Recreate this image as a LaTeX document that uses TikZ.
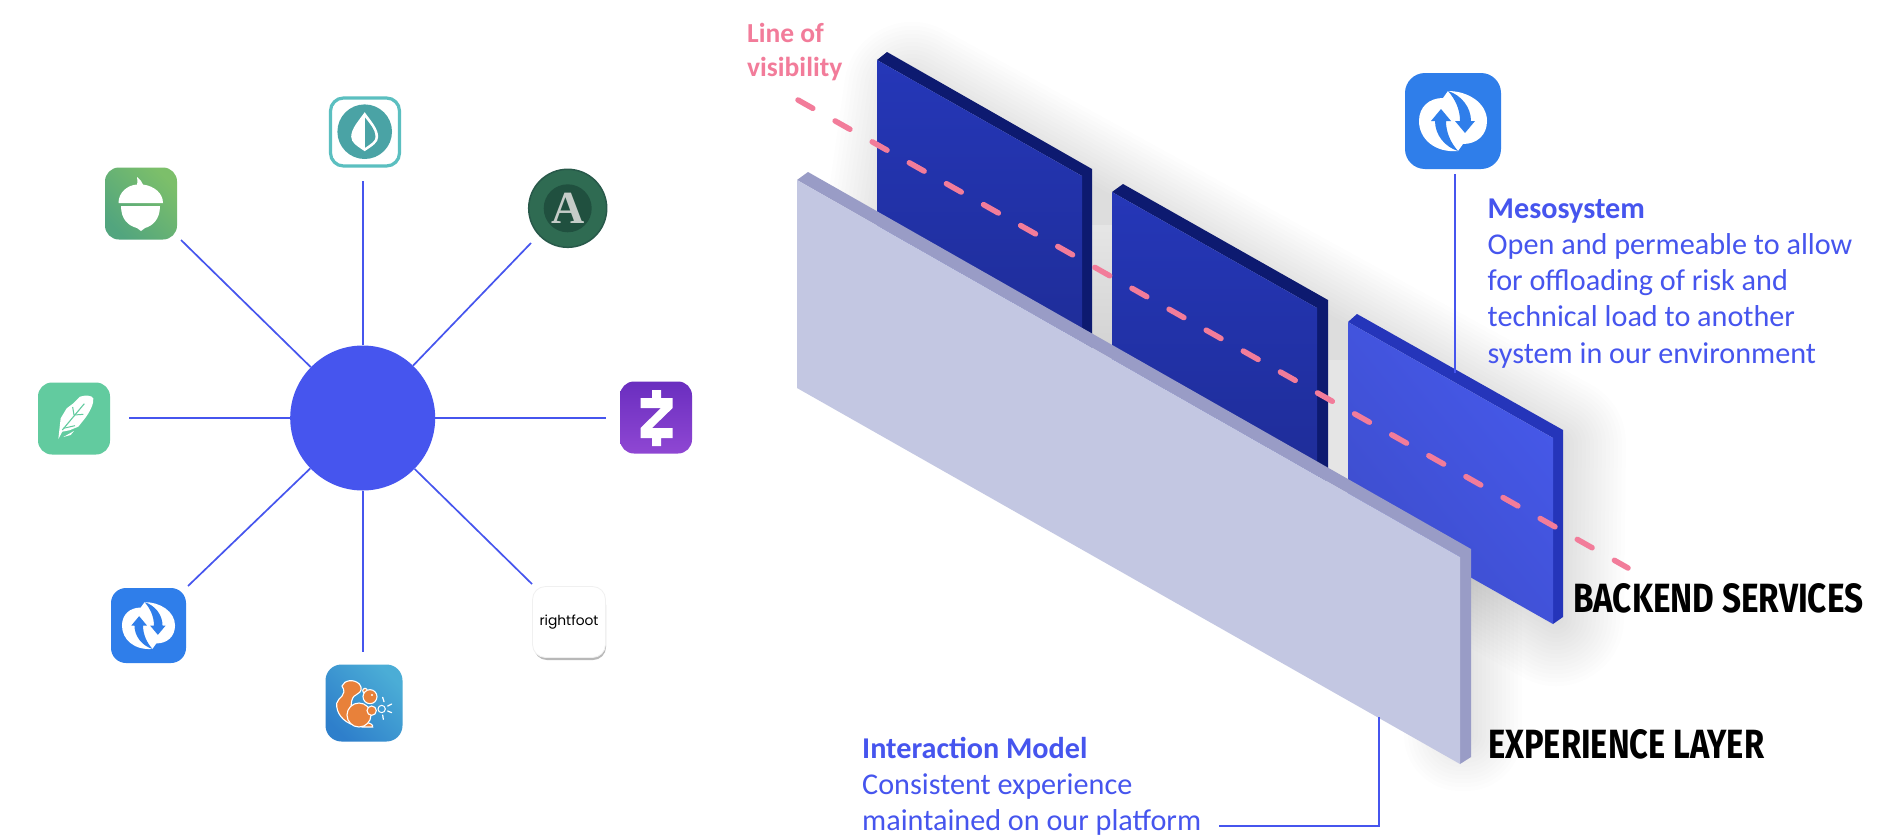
\documentclass[tikz,border=0pt]{standalone}
\usepackage{fontspec}
\setmainfont{Carlito}
\newfontfamily\labelfont{Fira Sans}
\newfontfamily\serifletter{Liberation Serif}
\newfontfamily\rightfontf{Poppins}
\definecolor{hubblue}{HTML}{4655EE}
\definecolor{pink}{HTML}{F27C9A}
\definecolor{frontface}{HTML}{C3C7E2}
\definecolor{frontedge}{HTML}{999CC6}
\definecolor{darkedge}{HTML}{0D1A70}
\definecolor{darkface}{HTML}{2537B8}
\definecolor{darkfacelow}{HTML}{1E2C96}
\definecolor{liteface}{HTML}{4659EA}
\definecolor{litefacelow}{HTML}{3D4DCC}
\definecolor{liteedge}{HTML}{2535BA}
\definecolor{wave}{HTML}{2F7EEA}
\definecolor{mintring}{HTML}{5BBFC0}
\definecolor{mintdisc}{HTML}{4AA3A5}
\definecolor{acornlow}{HTML}{52A57E}
\definecolor{acornhigh}{HTML}{7CBF6A}
\definecolor{featherbg}{HTML}{62CB9F}
\definecolor{zelletop}{HTML}{6A2EBF}
\definecolor{zellelow}{HTML}{8F47D3}
\definecolor{aspouter}{HTML}{2F6B52}
\definecolor{aspinner}{HTML}{20503F}
\definecolor{asprim}{HTML}{28594A}
\definecolor{aspletter}{HTML}{C5CCC8}
\definecolor{squirlow}{HTML}{2E7FCB}
\definecolor{squirhigh}{HTML}{4BADD6}
\definecolor{squirorange}{HTML}{E8813A}
\tikzset{
  spoke/.style={draw=hubblue,line width=1.7pt},
  iconbox/.style={rectangle,rounded corners=14pt,minimum width=72pt,minimum height=72pt,inner sep=0pt,draw=none},
  bodytext/.style={text=hubblue,align=left,inner sep=0pt,font=\fontsize{30.2}{36.2}\selectfont},
  tierlabel/.style={text=black,inner sep=0pt,anchor=west,font=\labelfont\bfseries},
  softlayer/.style={fill=black,draw=black,line join=round},
  squirpart/.style={fill=squirorange,draw=white,line width=1.1pt},
}
\newcommand{\waveglyph}[3]{%
  \begin{scope}[shift={(#1,#2)},scale=#3]
    \fill[white] (-5,-30) .. controls (15,-30) and (34,-18) .. (34,0)
      .. controls (34,14) and (24,23) .. (10,23) -- (5,30)
      .. controls (-18,32) and (-34,18) .. (-34,0)
      .. controls (-34,-14) and (-24,-23) .. (-10,-23) -- cycle;
    \fill[wave] (-12,-12) -- (-22,0) -- (-18,0) .. controls (-18,14) and (-8,26) .. (5,30)
      .. controls (-2,22) and (-7,12) .. (-7,0) -- (-2,0) -- cycle;
    \fill[wave] (12,12) -- (22,0) -- (18,0) .. controls (18,-14) and (8,-26) .. (-5,-30)
      .. controls (2,-22) and (7,-12) .. (7,0) -- (2,0) -- cycle;
  \end{scope}}
\begin{document}
\begin{tikzpicture}[x=1pt,y=-1pt]
\useasboundingbox (0,0) rectangle (1900,838);
\fill[white] (0,0) rectangle (1900,838);

% soft shadows
\foreach \w in {4,8,...,68}{
  \begin{scope}[transparency group,opacity=.0062]
    \path[softlayer,line width=2*\w pt] (912,90) -- (1558,444) -- (1556,618) -- (890,244) -- cycle;
  \end{scope}
}
\foreach \w in {4,8,...,56}{
  \begin{scope}[transparency group,opacity=.0075]
    \path[softlayer,line width=2*\w pt] (1466,560) -- (1466,735) -- (1460,735) -- (1460,560) -- cycle;
  \end{scope}
}
\shade[top color=black!10,bottom color=black!17] (1092,225) rectangle (1112,345);
\shade[top color=black!10,middle color=black!12,bottom color=black!10] (1328,360) rectangle (1348,480);

% back panels
\fill[darkedge] (877,60) -- (887,52) -- (1092,169) -- (1092,360) -- (1082,362) -- (1082,176) -- cycle;
\shade[top color=darkface,middle color=darkface,bottom color=darkfacelow] (877,60) -- (1082,176) -- (1082,362) -- (877,246) -- cycle;
\fill[darkedge] (1112,192) -- (1123,184) -- (1328,300) -- (1328,480) -- (1317,486) -- (1317,308) -- cycle;
\shade[top color=darkface,middle color=darkface,bottom color=darkfacelow] (1112,192) -- (1317,308) -- (1317,494) -- (1112,378) -- cycle;
\fill[liteedge] (1348,322) -- (1357,314) -- (1563,430) -- (1563,617) -- (1553,624) -- (1553,438) -- cycle;
\shade[left color=litefacelow,middle color=liteface,right color=liteface,shading angle=130] (1348,322) -- (1553,438) -- (1553,624) -- (1348,508) -- cycle;

% front panel
\fill[frontedge] (797,180) -- (808,172) -- (1471,549) -- (1471,757) -- (1460,764) -- (1460,557) -- cycle;
\fill[frontface] (797,180) -- (1460,557) -- (1460,764) -- (797,388) -- cycle;

% line of visibility
\coordinate (lva) at (798,100);
\coordinate (lvb) at (1628,568);
\draw[pink,line width=5.5pt,line cap=round,dash pattern=on 17pt off 25.6pt] (lva) -- (lvb);
\node[anchor=north west,text=pink,align=left,inner sep=0pt,font=\fontsize{27.5}{34}\selectfont\bfseries] (lvtext) at (747,23) {Line of\\visibility};

% left hub and spokes
\node[circle,fill=hubblue,minimum size=145pt,inner sep=0pt] (hub) at (362.7,418) {};
\coordinate (e1) at (362.7,181);
\coordinate (e2) at (531,243);
\coordinate (e3) at (606,418);
\coordinate (e4) at (532,584);
\coordinate (e5) at (362.7,652);
\coordinate (e6) at (188,586);
\coordinate (e7) at (129,418);
\coordinate (e8) at (181,240);
\foreach \e in {e1,e2,e3,e4,e5,e6,e7,e8} \draw[spoke] (hub) -- (\e);

% mint
\node[iconbox,rounded corners=13pt,draw=mintring,line width=3.2pt,fill=white,minimum width=69pt,minimum height=68pt] (mint) at (365,132) {};
\begin{scope}[shift={(364.7,131.7)}]
  \fill[mintdisc] (0,0) circle[radius=27.3];
  \fill[white] (0,-19.5) .. controls (6,-11) and (13.5,-3) .. (13.5,5) .. controls (13.5,11) and (8,14) .. (0,19.5)
     .. controls (-8,14) and (-13.5,11) .. (-13.5,5) .. controls (-13.5,-3) and (-6,-11) .. (0,-19.5) -- cycle;
  \fill[mintdisc] (0.4,-14) .. controls (5,-8) and (10.8,-2) .. (10.8,5) .. controls (10.8,9.5) and (6,12) .. (0.4,16) -- cycle;
\end{scope}

% acorn
\node[iconbox,bottom color=acornlow,top color=acornhigh,shading angle=-45] (acorn) at (141,203.5) {};
\fill[white] (118.5,203) .. controls (118.5,192) and (128,185) .. (137,184.5) .. controls (138,181) and (137,179) .. (137,177)
  .. controls (140,179) and (142,182) .. (143,184.5) .. controls (154,186) and (163,193) .. (163,203) -- cycle;
\fill[white] (121,206) -- (160,206) .. controls (160,220) and (152,226) .. (145,228) -- (141,231) -- (137,228)
  .. controls (129,226) and (121,220) .. (121,206) -- cycle;

% aspiration
\node[circle,fill=aspouter,draw=asprim,line width=1.5pt,minimum size=78pt,inner sep=0pt] (aspire) at (567.7,208.3) {};
\node[circle,fill=aspinner,minimum size=48pt,inner sep=0pt,text=aspletter,font=\serifletter\bfseries\fontsize{46}{46}\selectfont] (aspletter) at (567.7,208.3) {A};

% feather
\node[iconbox,fill=featherbg] (feather) at (74,418.5) {};
\begin{scope}[shift={(30,375)},scale=1/3]
  \fill[white] (85,192) -- (92,130) -- (110,100) -- (130,85) -- (150,65) .. controls (165,60) and (185,60) .. (190,70)
     .. controls (192,85) and (180,110) .. (165,130) -- (145,155) -- (118,166) -- (97,170) -- cycle;
  \fill[white] (100,186) -- (132,168) -- (122,180) -- cycle;
  \draw[featherbg,line width=1.1pt] (97,165) -- (163,86);
  \draw[featherbg,line width=1pt] (132,120) -- (128,96);
  \draw[featherbg,line width=1pt] (132,120) -- (160,118);
  \draw[featherbg,line width=1pt] (100,160) -- (135,152);
\end{scope}

% zelle
\node[iconbox,top color=zelletop,bottom color=zellelow] (zelle) at (656,417.5) {};
\fill[white] (640.5,398) -- (652,398) -- (652,390) -- (661,390) -- (661,398) -- (672.6,398) -- (672.6,408) -- (652,428)
  -- (672.6,428) -- (672.6,438) -- (661,438) -- (661,446) -- (652,446) -- (652,438) -- (640.5,438) -- (640.5,428)
  -- (661,408) -- (640.5,408) -- cycle;

% wave (small)
\node[iconbox,fill=wave,minimum width=75pt,minimum height=75pt,rounded corners=15pt] (wavesmall) at (148.5,625.5) {};
\waveglyph{148.5}{625.5}{.78}

% squirrel
\node[iconbox,bottom color=squirlow,top color=squirhigh,shading angle=-45,minimum width=77pt,minimum height=77pt,rounded corners=16pt] (squirrel) at (364,703) {};
\begin{scope}[shift={(320,660)},scale=1/3]
  \draw[squirpart] (66,78) .. controls (72,60) and (102,56) .. (118,72) .. controls (128,84) and (124,96) .. (112,102)
     .. controls (96,108) and (86,125) .. (100,195) .. controls (70,185) and (48,160) .. (50,130)
     .. controls (54,110) and (84,108) .. (66,78) -- cycle;
  \draw[squirpart] (140,188) .. controls (150,188) and (160,195) .. (158,201) -- (128,201) -- cycle;
  \draw[squirpart] (117,165) circle[radius=36];
  \draw[squirpart] (135,92) circle[radius=7];
  \draw[squirpart] (150,110) circle[radius=21];
  \fill[white] (156,105) circle[radius=3.5];
  \draw[white,line width=1pt] (185,147) circle[radius=11];
  \draw[squirpart] (155,152) circle[radius=14];
  \draw[white,line width=1.2pt,line cap=round] (188,112) -- (192,125) (215,132) -- (203,138) (215,158) -- (203,153) (190,178) -- (188,165);
\end{scope}

% rightfoot
\fill[black!28,rounded corners=13pt] (534,592) rectangle (606,660);
\node[iconbox,fill=white,draw=black!6,line width=.8pt,minimum width=73pt,minimum height=71pt,rounded corners=13pt,font=\rightfontf] (rightfoot) at (569,622) {\resizebox{59pt}{!}{rightfoot}};

% right hand icon, connectors, text
\node[iconbox,fill=wave,minimum width=96pt,minimum height=96pt,rounded corners=20pt] (wavebig) at (1453,121) {};
\waveglyph{1453}{121}{1}
\coordinate (m1) at (1455,174);
\coordinate (m2) at (1455,373);
\draw[spoke] (m1) -- (m2);
\node[bodytext,anchor=north west] (meso) at (1487.5,198.5) {{\bfseries Mesosystem}\\Open and permeable to allow\\for offloading of risk and\\technical load to another\\system in our environment};
\node[bodytext,anchor=north west] (inter) at (862,737) {{\bfseries Interaction Model}\\Consistent experience\\maintained on our platform};
\coordinate (i1) at (1219,826);
\coordinate (i2) at (1379,717);
\draw[spoke,line width=2pt] (i1) -| (i2);

\node[tierlabel] (backend) at (1573,598) {\resizebox{290pt}{29pt}{BACKEND SERVICES}};
\node[tierlabel] (experience) at (1488,744) {\resizebox{276pt}{29pt}{EXPERIENCE LAYER}};
\end{tikzpicture}
\end{document}
